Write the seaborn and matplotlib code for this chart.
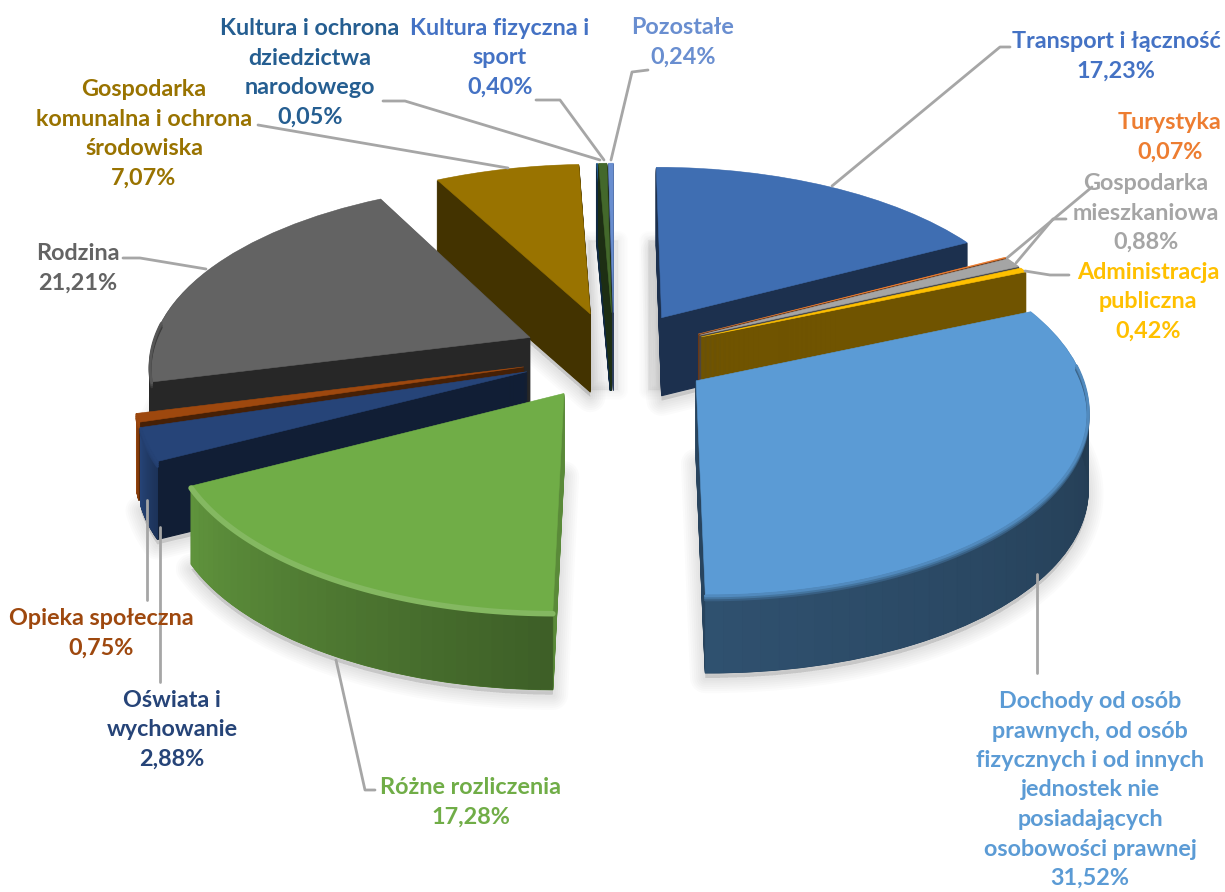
import matplotlib
matplotlib.use("Agg")
import matplotlib.pyplot as plt
from matplotlib.path import Path
from matplotlib.patches import Rectangle
from matplotlib.transforms import Transform
import seaborn as sns
import numpy as np

# slices, clockwise from 12 o'clock
names = ['Transport i łączność', 'Turystyka', 'Gospodarka\nmieszkaniowa', 'Administracja\npubliczna',
         'Dochody od osób\nprawnych, od osób\nfizycznych i od innych\njednostek nie\nposiadających\nosobowości prawnej',
         'Różne rozliczenia', 'Oświata i\nwychowanie', 'Opieka społeczna', 'Rodzina',
         'Gospodarka\nkomunalna i ochrona\nśrodowiska', 'Kultura i ochrona\ndziedzictwa\nnarodowego',
         'Kultura fizyczna i\nsport', 'Pozostałe']
shares = [17.23, 0.07, 0.88, 0.42, 31.52, 17.28, 2.88, 0.75, 21.21, 7.07, 0.05, 0.40, 0.24]
explode = [0.25, 0.255, 0.255, 0.255, 0.255, 0.245, 0.245, 0.245, 0.245, 0.245, 0.245, 0.245, 0.245]
colors = ['#3f6eb2', '#ed7d31', '#a5a5a5', '#ffc000', '#5b9bd5', '#70ad47', '#264478',
          '#9e480e', '#636363', '#997300', '#255e91', '#43682b', '#698ed0']
text_colors = ['#4472c4', '#ed7d31', '#a5a5a5', '#ffc000', '#5b9bd5', '#70ad47', '#264478',
               '#9e480e', '#636363', '#997300', '#255e91', '#4472c4', '#698ed0']
# back to front
draw_rank = [4, 5, 6, 7, 12, 11, 10, 9, 3, 2, 0, 1, 0]
# brightness of the cut faces, and of the outer wall at its left and right end
wall_k = [0.44, 0.44, 0.44, 0.44, 0.44, 0.8, 0.44, 0.44, 0.39, 0.44, 0.44, 0.44, 0.44]
rim_left = [0.44, 0.44, 0.44, 0.44, 0.52, 0.85, 1.0, 1.0, 0.39, 0.44, 0.44, 0.44, 0.44]
rim_right = [0.44, 0.44, 0.44, 0.44, 0.38, 0.55, 0.75, 0.8, 0.39, 0.44, 0.44, 0.44, 0.44]

label_xy = [(1116, 55), (1170, 136), (1146, 212), (1148, 301), (1090, 789), (471, 801), (172, 729),
            (101, 632), (78, 267), (144, 133), (310, 72), (500, 57), (683, 41)]
leaders = [[(832, 186), (1000, 47), (1010, 47)],
           [(1007, 258), (1092, 187)],
           [(1016, 263), (1053, 219), (1066, 219)],
           [(1025, 271), (1050, 275), (1069, 275)],
           [(1037, 574), (1037, 673)],
           [(336, 660), (365, 790), (375, 790)],
           [(160, 527), (160, 682)],
           [(147, 500), (147, 600)],
           [(206, 269), (140, 258), (123, 258)],
           [(508, 168), (258, 125)],
           [(600, 160), (405, 101), (383, 101)],
           [(604, 160), (560, 100), (536, 100)],
           [(611, 160), (632, 72), (648, 70)]]

CX, CY, AX_W, AX_H, PERSP, DEPTH = 614, 355, 380, 179, 0.13, 78


def project(x, y, depth=0):
    w = 1 + PERSP * np.asarray(y)
    return CX + AX_W * np.asarray(x) / w, CY - AX_H * np.asarray(y) / w + depth


class Tilt(Transform):
    input_dims = 2
    output_dims = 2
    is_affine = False

    def __init__(self, drop=0):
        super().__init__()
        self.drop = drop

    def transform_non_affine(self, values):
        values = np.asarray(values)
        sx, sy = project(values[:, 0], values[:, 1], self.drop)
        return np.column_stack([sx, sy])

    def transform_path_non_affine(self, path):
        return Path(self.transform_non_affine(path.vertices), path.codes)


def shade(color, k):
    c = np.array(matplotlib.colors.to_rgb(color)) * k
    return tuple(np.clip(c, 0, 1))


def mix(a, b, t):
    return tuple(np.array(matplotlib.colors.to_rgb(a)) * (1 - t) + np.array(matplotlib.colors.to_rgb(b)) * t)


def pie_layer(ax, depth):
    wedges, _ = ax.pie(shares, explode=explode, startangle=90, counterclock=False, radius=1)
    for w in wedges:
        w.set_transform(Tilt(depth) + ax.transData)
        w.set_joinstyle('round')
    return wedges


def arc_points(w, depth, a, b, n=60):
    t = np.radians(np.linspace(a, b, n))
    return project(w.center[0] + w.r * np.cos(t), w.center[1] + w.r * np.sin(t), depth)


sns.set_theme(style='white')
plt.rcParams['font.family'] = ['Lato', 'DejaVu Sans']
palette = sns.color_palette(colors)

fig = plt.figure(figsize=(12.25, 8.92), dpi=100)
ax = fig.add_axes([0, 0, 1, 1])

# soft ground shadow, thin slices cast none worth drawing
for grow in np.arange(22, 1, -3):
    for i, w in enumerate(pie_layer(ax, DEPTH + 5)):
        w.set(facecolor='black', edgecolor='black', alpha=0.014 if shares[i] > 1 else 0,
              linewidth=grow, zorder=0.5)
for grow in np.arange(14, 0, -2):
    for x0, wide in [(588, 30), (648, 12)]:
        r = Rectangle((x0, 240), wide, 150, facecolor='black', edgecolor='black',
                      alpha=0.009, linewidth=grow, zorder=0.4, joinstyle='round')
        ax.add_patch(r)

# side walls, stacked from the bottom up
for d in np.arange(DEPTH, 0, -1):
    for i, w in enumerate(pie_layer(ax, d)):
        c = shade(palette[i], wall_k[i])
        w.set(facecolor=c, edgecolor=c, linewidth=0.8, zorder=1 + draw_rank[i])

top = pie_layer(ax, 0)
for i, w in enumerate(top):
    base = 1 + draw_rank[i]
    w.set(facecolor=palette[i], edgecolor=palette[i], linewidth=0.4, zorder=base + 0.3)

    # outer wall seen from the front, shaded along its length
    start = w.theta1 % 360
    stop = start + (w.theta2 - w.theta1)
    lo = max(start, 175)
    hi = min(stop, 365)
    if hi > lo:
        edges = np.linspace(lo, hi, 41)
        for j in range(40):
            xa, ya = arc_points(w, 0, edges[j], edges[j + 1], 4)
            xb, yb = arc_points(w, DEPTH, edges[j], edges[j + 1], 4)
            k = rim_left[i] + (rim_right[i] - rim_left[i]) * (j / 39)
            c = shade(palette[i], k)
            ax.fill(np.r_[xa, xb[::-1]], np.r_[ya, yb[::-1]], facecolor=c, edgecolor=c,
                    linewidth=0.5, zorder=base + 0.1)

        # bevel between top and wall
        wall = shade(palette[i], (rim_left[i] + rim_right[i]) / 2)
        if i == 5:
            bx, by = arc_points(w, 2, lo, hi)
            ax.plot(bx, by, color=mix(palette[i], '#ffffff', 0.14), lw=4, zorder=base + 0.4,
                    solid_capstyle='round')
        else:
            for d, t in zip([5, 3, 1], [0.7, 0.45, 0.2]):
                bx, by = arc_points(w, d, lo, hi)
                ax.plot(bx, by, color=mix(palette[i], wall, t), lw=2, zorder=base + 0.4 - d / 100)

# leader lines
for path in leaders:
    ax.plot(*zip(*path), color='#a6a6a6', lw=2, zorder=40, solid_capstyle='round')

# labels
for name, share, (lx, ly), tc in zip(names, shares, label_xy, text_colors):
    pct = f'{share:.2f}'.replace('.', ',') + '%'
    ax.text(lx, ly + 1, f'{name}\n{pct}', color=tc, ha='center', va='center', multialignment='center',
            fontsize=16.8, fontweight='bold', linespacing=1.5, zorder=50)

ax.set_aspect('auto')
ax.set_xlim(0, 1225)
ax.set_ylim(892, 0)
ax.set_axis_off()

plt.savefig('out.png', dpi=100)
